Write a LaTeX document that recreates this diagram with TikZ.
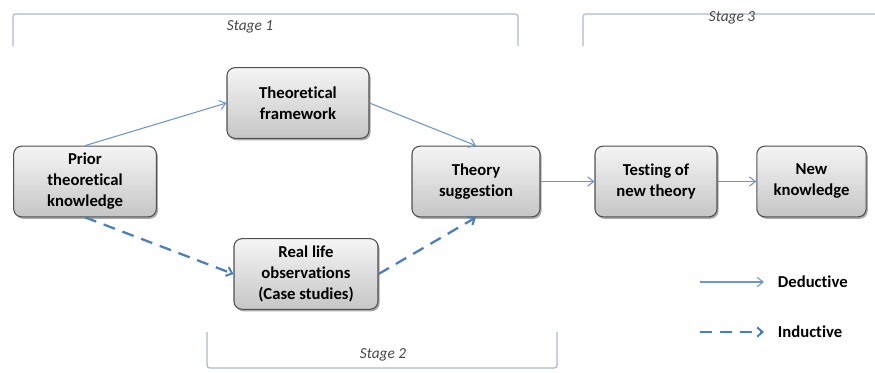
\documentclass[tikz,border=0pt]{standalone}
\usepackage{fontspec}
\setmainfont{Carlito}[Ligatures=NoCommon]
\usetikzlibrary{arrows.meta,shadows}

\definecolor{deducblue}{RGB}{110,150,205}
\definecolor{inducblue}{RGB}{74,126,190}
\definecolor{stageline}{RGB}{170,185,205}
\definecolor{stagetext}{RGB}{70,70,70}

\tikzset{every picture/.style={line width=0.75pt}}
\tikzset{
  stepbox/.style={draw={rgb,255:red,80;green,80;blue,80}, line width=0.8pt, rounded corners=6pt,
    top color=gray!8, bottom color=gray!45, minimum height=53pt, align=center, inner sep=2pt,
    font=\fontsize{12.5}{15.75}\selectfont\bfseries,
    drop shadow={shadow xshift=1.2pt, shadow yshift=-1.5pt, fill=black!55, opacity=0.6}},
  deductive/.style={draw=deducblue, line width=0.8pt, -{Straight Barb[length=4.5pt,width=7pt]}},
  inductive/.style={draw=inducblue, line width=1.7pt, dash pattern={on 9pt off 6pt},
    -{Straight Barb[length=4pt,width=7pt,line width=1.5pt]}},
  stagebracket/.style={draw=stageline, line width=0.9pt, rounded corners=2pt},
  stagelabel/.style={text=stagetext, font=\fontsize{11.5}{13}\selectfont\itshape},
  legendlabel/.style={anchor=west, font=\fontsize{12.5}{14}\selectfont\bfseries}
}

\begin{document}
\begin{tikzpicture}[x=0.75pt,y=0.75pt,yscale=-1,xscale=1]
\useasboundingbox (0,0) rectangle (875,372);

%Stage brackets
\draw [stagebracket] (13,46) -- (13,14) -- (518,14) -- (518,46) ;
\draw [stagebracket] (583,46) -- (583,14) -- (876,14) ;
\draw [stagebracket] (207,332) -- (207,368) -- (557,368) -- (557,332) ;

% Text Node
\node [stagelabel] (stageone) at (250,27) {Stage 1};
\node [stagelabel] (stagethree) at (732,18) {Stage 3};
\node [stagelabel] (stagetwo) at (383,355) {Stage 2};

%Boxes
\node [stepbox, minimum width=107pt] (prior) at (85,181.5) {Prior\\theoretical\\knowledge};
\node [stepbox, minimum width=106.5pt] (framework) at (298,103) {Theoretical\\framework};
\node [stepbox, minimum width=108pt] (reallife) at (306,274) {Real life\\observations\\(Case studies)};
\node [stepbox, minimum width=96pt] (suggestion) at (476,181.5) {Theory\\suggestion};
\node [stepbox, minimum width=91.5pt] (testing) at (656,181.5) {Testing of\\new theory};
\node [stepbox, minimum width=82pt] (newknow) at (811.5,181.5) {New\\knowledge};

%Connectors
\draw [deductive] (prior.north) -- (framework.west) ;
\draw [deductive] (framework.east) -- (suggestion.north) ;
\draw [inductive] (prior.south) -- (reallife.west) ;
\draw [inductive] (reallife.east) -- (suggestion.south) ;
\draw [deductive] (suggestion.east) -- (testing.west) ;
\draw [deductive] (testing.east) -- (newknow.west) ;

%Legend
\coordinate (dedstart) at (700,282) ;
\coordinate (dedend) at (764,282) ;
\coordinate (indstart) at (700,332) ;
\coordinate (indend) at (764,332) ;
\draw [deductive] (dedstart) -- (dedend) ;
\draw [inductive] (indstart) -- (indend) ;
% Text Node
\node [legendlabel] (dedlabel) at (773,282) {Deductive};
% Text Node
\node [legendlabel] (indlabel) at (773,332) {Inductive};
\end{tikzpicture}
\end{document}
